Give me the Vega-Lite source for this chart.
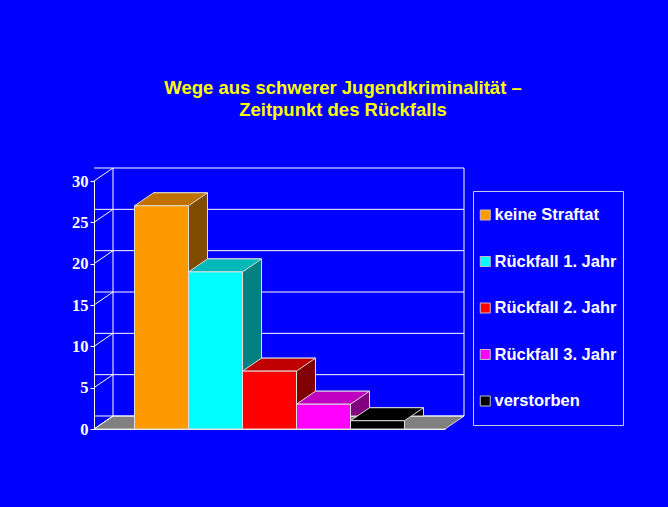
{
  "$schema": "https://vega.github.io/schema/vega-lite/v6.json",
  "width": 351,
  "height": 248,
  "autosize": "none",
  "padding": {"left": 94, "top": 181, "right": 223, "bottom": 78},
  "background": "#0000FF",
  "title": {
    "text": ["Wege aus schwerer Jugendkriminalität –", "Zeitpunkt des Rückfalls"],
    "color": "#FFFF00",
    "font": "Liberation Sans",
    "fontSize": 18.5,
    "fontWeight": "bold",
    "anchor": "middle",
    "frame": "group",
    "dx": 73.5,
    "lineHeight": 22,
    "offset": 47
  },
  "config": {
    "view": {"stroke": null},
    "axis": {"grid": false}
  },
  "datasets": {
    "werte": [
      {"kategorie": "keine Straftat", "wert": 27},
      {"kategorie": "Rückfall 1. Jahr", "wert": 19},
      {"kategorie": "Rückfall 2. Jahr", "wert": 7},
      {"kategorie": "Rückfall 3. Jahr", "wert": 3},
      {"kategorie": "verstorben", "wert": 1}
    ],
    "ticks": [{"t": 0}, {"t": 5}, {"t": 10}, {"t": 15}, {"t": 20}, {"t": 25}, {"t": 30}]
  },
  "resolve": {"scale": {"color": "independent"}},
  "layer": [
    {
      "data": {"values": [{"b": 0}]},
      "mark": {"type": "point", "shape": "M-175.5,0L175.5,0L194.5,-13L-156.5,-13Z", "size": 4, "filled": true, "fill": "#808080", "stroke": "#dddddd", "strokeWidth": 1, "opacity": 1},
      "encoding": {
        "y": {"field": "b", "type": "quantitative", "scale": {"domain": [0, 30]}}
      }
    },
    {
      "data": {"name": "ticks"},
      "mark": {"type": "rule", "color": "#ffffff", "strokeWidth": 1, "xOffset": 19, "x2Offset": 19, "yOffset": -13, "y2Offset": -13},
      "encoding": {
        "y": {"field": "t", "type": "quantitative"}
      }
    },
    {
      "data": {"values": [{"b": 0}]},
      "mark": {"type": "point", "shape": "M-156.5,-13L-156.5,-261M194.5,-13L194.5,-261", "size": 4, "filled": false, "stroke": "#ffffff", "strokeWidth": 1, "opacity": 1},
      "encoding": {
        "y": {"field": "b", "type": "quantitative"}
      }
    },
    {
      "data": {"name": "ticks"},
      "mark": {"type": "point", "shape": "M-175.5,0L-156.5,-13", "size": 4, "filled": false, "stroke": "#ffffff", "strokeWidth": 1, "opacity": 1},
      "encoding": {
        "y": {"field": "t", "type": "quantitative"}
      }
    },
    {
      "data": {"name": "werte"},
      "mark": {"type": "bar", "stroke": "#dddddd", "strokeWidth": 1, "xOffset": 19, "x2Offset": 19, "yOffset": -13, "y2Offset": -13},
      "encoding": {
        "x": {"field": "kategorie", "type": "nominal", "sort": null, "scale": {"paddingInner": 0, "paddingOuter": 0.75}},
        "y": {"field": "wert", "type": "quantitative"},
        "color": {
          "field": "kategorie", "type": "nominal", "sort": null, "legend": null,
          "scale": {"range": ["#804C00", "#008080", "#800000", "#800080", "#000000"]}
        }
      }
    },
    {
      "data": {"name": "werte"},
      "mark": {"type": "point", "shape": "M-27,0L27,0L46,-13L-8,-13Z", "size": 4, "filled": true, "stroke": "#dddddd", "strokeWidth": 1, "opacity": 1},
      "encoding": {
        "x": {"field": "kategorie", "type": "nominal", "sort": null},
        "y": {"field": "wert", "type": "quantitative"},
        "color": {
          "field": "kategorie", "type": "nominal", "sort": null, "legend": null,
          "scale": {"range": ["#C07000", "#00B8B8", "#C00000", "#C000C0", "#000000"]}
        }
      }
    },
    {
      "data": {"name": "werte"},
      "mark": {"type": "bar", "stroke": "#dddddd", "strokeWidth": 1},
      "encoding": {
        "x": {
          "field": "kategorie", "type": "nominal", "sort": null,
          "axis": {"labels": false, "ticks": false, "title": null, "domain": true, "domainColor": "#ffffff", "domainWidth": 1}
        },
        "y": {
          "field": "wert", "type": "quantitative",
          "axis": {
            "title": null, "values": [0, 5, 10, 15, 20, 25, 30],
            "domainColor": "#ffffff", "tickColor": "#ffffff", "tickSize": 4,
            "labelFont": "Liberation Serif", "labelFontWeight": "bold", "labelFontSize": 16.5,
            "labelColor": "#ffffff", "labelPadding": 2
          }
        },
        "color": {
          "field": "kategorie", "type": "nominal", "sort": null,
          "scale": {"range": ["#FF9900", "#00FFFF", "#FF0000", "#FF00FF", "#000000"]},
          "legend": {
            "title": null, "orient": "none", "legendX": 379, "legendY": 10,
            "padding": 6, "clipHeight": 36, "symbolOffset": -2, "labelOffset": 1,
            "symbolType": "square", "symbolSize": 100, "symbolStrokeColor": "#c0c0c0", "symbolStrokeWidth": 1,
            "labelFont": "Liberation Sans", "labelFontWeight": "bold", "labelFontSize": 16.5,
            "labelColor": "#ffffff", "labelLimit": 300, "rowPadding": 10.5,
            "strokeColor": "#c8c8e8", "fillColor": "#0000FF"
          }
        }
      }
    }
  ]
}
